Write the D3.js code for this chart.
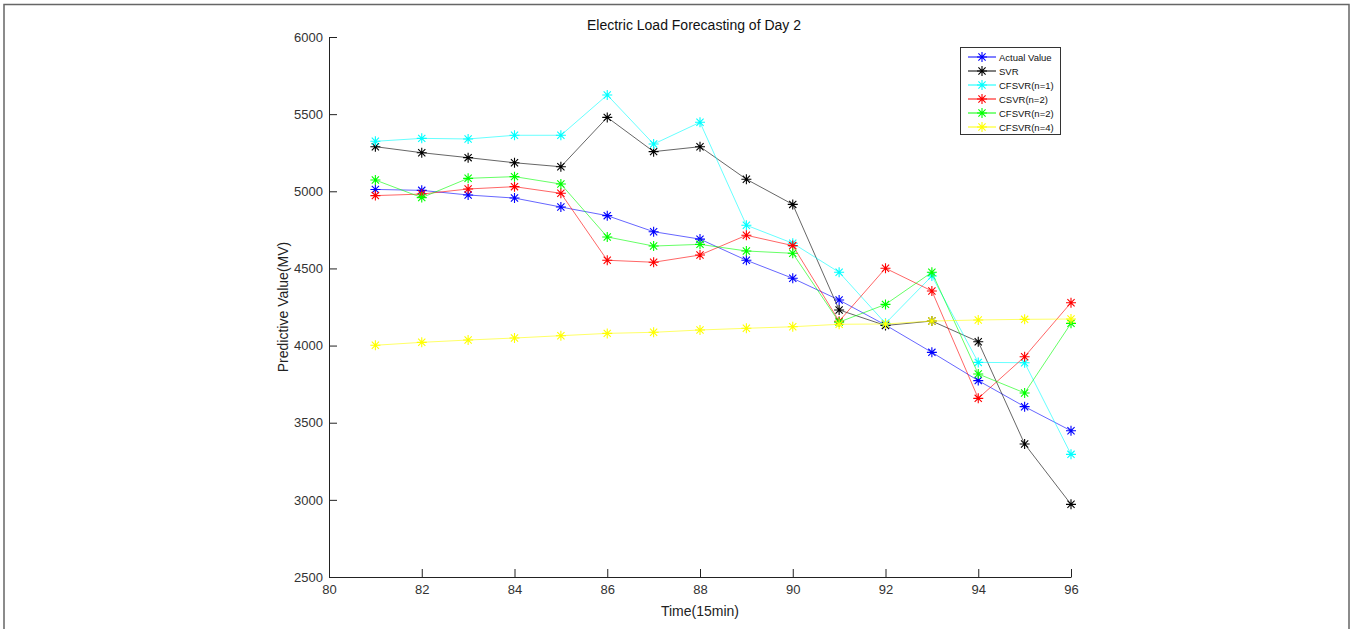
<!DOCTYPE html>
<html>
<head>
<meta charset="utf-8">
<script src="https://cdn.jsdelivr.net/npm/d3@7"></script>
<style>
  body { margin: 0; background: #fff; }
  text { font-family: "Liberation Sans", Arial, sans-serif; }
</style>
</head>
<body>
<svg id="chart"></svg>
<script>
// time steps (15 min)
const times = [81, 82, 83, 84, 85, 86, 87, 88, 89, 90, 91, 92, 93, 94, 95, 96];

const actualValue = [5012, 5006, 4976, 4956, 4898, 4842, 4738, 4690, 4553, 4436, 4295, 4133, 3956, 3773, 3604, 3448];
const svr        = [5289, 5250, 5218, 5185, 5159, 5479, 5257, 5289, 5078, 4915, 4231, 4130, 4159, 4025, 3362, 2971];
const cfsvr1     = [5324, 5343, 5339, 5363, 5363, 5624, 5306, 5447, 4780, 4663, 4475, 4144, 4451, 3891, 3889, 3295];
const csvr2      = [4972, 4982, 5015, 5030, 4987, 4553, 4540, 4587, 4715, 4648, 4158, 4501, 4354, 3658, 3928, 4278];
const cfsvr2     = [5073, 4959, 5084, 5095, 5047, 4704, 4645, 4656, 4613, 4598, 4152, 4267, 4475, 3816, 3693, 4144];
const cfsvr4     = [4002, 4021, 4036, 4049, 4064, 4079, 4086, 4101, 4112, 4122, 4138, 4140, 4159, 4166, 4170, 4172];

const seriesNames = ["Actual Value", "SVR", "CFSVR(n=1)", "CSVR(n=2)", "CFSVR(n=2)", "CFSVR(n=4)"];
const seriesValues = [actualValue, svr, cfsvr1, csvr2, cfsvr2, cfsvr4];
const seriesColors = ["#0000ff", "#000000", "#00ffff", "#ff0000", "#00ff00", "#ffff00"];

const xTicks = [80, 82, 84, 86, 88, 90, 92, 94, 96];
const yTicks = [2500, 3000, 3500, 4000, 4500, 5000, 5500, 6000];

const width = 1355, height = 629;
const margin = { top: 37, right: 284, bottom: 52, left: 329 };
const innerW = width - margin.left - margin.right;
const innerH = height - margin.top - margin.bottom;

const svg = d3.select("#chart")
  .attr("width", width)
  .attr("height", height);

// outer figure frame
svg.append("path")
  .attr("d", `M4,${height} V4.5 H1349 V${height}`)
  .attr("fill", "none")
  .attr("stroke", "#666")
  .attr("stroke-width", 1.5);

const chart = svg.append("g")
  .attr("transform", `translate(${margin.left}, ${margin.top})`);

const xscale = d3.scaleLinear().domain([80, 96]).range([0, innerW]);
const yscale = d3.scaleLinear().domain([2500, 6000]).range([innerH, 0]);

const xaxis = d3.axisBottom(xscale).tickValues(xTicks).tickFormat(d3.format("d"))
  .tickSizeInner(-8).tickSizeOuter(0).tickPadding(8);
const yaxis = d3.axisLeft(yscale).tickValues(yTicks).tickFormat(d3.format("d"))
  .tickSizeInner(-8).tickSizeOuter(0).tickPadding(6);

const xg = chart.append("g")
  .attr("transform", `translate(0, ${innerH})`)
  .call(xaxis);
const yg = chart.append("g").call(yaxis);

[xg, yg].forEach(g => {
  g.select(".domain").attr("stroke", "#222");
  g.selectAll(".tick line").attr("stroke", "#222");
  g.selectAll(".tick text").attr("fill", "#333").style("font-size", "13px");
});

// asterisk marker like matlab '*'
const r = 5, rd = 3.6;
const starPath = `M${-r},0H${r}M0,${-r}V${r}M${-rd},${-rd}L${rd},${rd}M${-rd},${rd}L${rd},${-rd}`;

const line = d3.line()
  .x((d, i) => xscale(times[i]))
  .y(d => yscale(d));

seriesValues.forEach((vals, k) => {
  chart.append("path")
    .datum(vals)
    .attr("d", line)
    .attr("fill", "none")
    .attr("stroke", seriesColors[k])
    .attr("stroke-opacity", 0.6)
    .attr("stroke-width", 1);

  chart.selectAll(null)
    .data(vals)
    .join("path")
    .attr("transform", (d, i) => `translate(${xscale(times[i])}, ${yscale(d)})`)
    .attr("d", starPath)
    .attr("fill", "none")
    .attr("stroke", seriesColors[k])
    .attr("stroke-width", 1.1);
});

// title and axis labels
svg.append("text")
  .attr("x", margin.left + innerW / 2 - 6)
  .attr("y", 30)
  .attr("text-anchor", "middle")
  .style("font-size", "14px")
  .attr("fill", "#111")
  .text("Electric Load Forecasting of Day 2");

svg.append("text")
  .attr("x", margin.left + innerW / 2)
  .attr("y", 616)
  .attr("text-anchor", "middle")
  .style("font-size", "14px")
  .attr("fill", "#222")
  .text("Time(15min)");

svg.append("text")
  .attr("transform", `translate(288, ${margin.top + innerH / 2}) rotate(-90)`)
  .attr("text-anchor", "middle")
  .style("font-size", "14px")
  .attr("fill", "#222")
  .text("Predictive Value(MV)");

// legend
const legend = svg.append("g").attr("transform", "translate(960, 47)");
legend.append("rect")
  .attr("x", 0.5).attr("y", 0.5)
  .attr("width", 100).attr("height", 87)
  .attr("fill", "#fff")
  .attr("stroke", "#333")
  .attr("stroke-width", 1);

seriesNames.forEach((name, k) => {
  const g = legend.append("g").attr("transform", `translate(0, ${10 + k * 14})`);
  g.append("line")
    .attr("x1", 8).attr("x2", 36)
    .attr("stroke", seriesColors[k]);
  g.append("path")
    .attr("transform", "translate(22, 0)")
    .attr("d", starPath)
    .attr("fill", "none")
    .attr("stroke", seriesColors[k])
    .attr("stroke-width", 1.1);
  g.append("text")
    .attr("x", 39).attr("y", 3.5)
    .style("font-size", "9.5px")
    .attr("fill", "#111")
    .text(name);
});
</script>
</body>
</html>
